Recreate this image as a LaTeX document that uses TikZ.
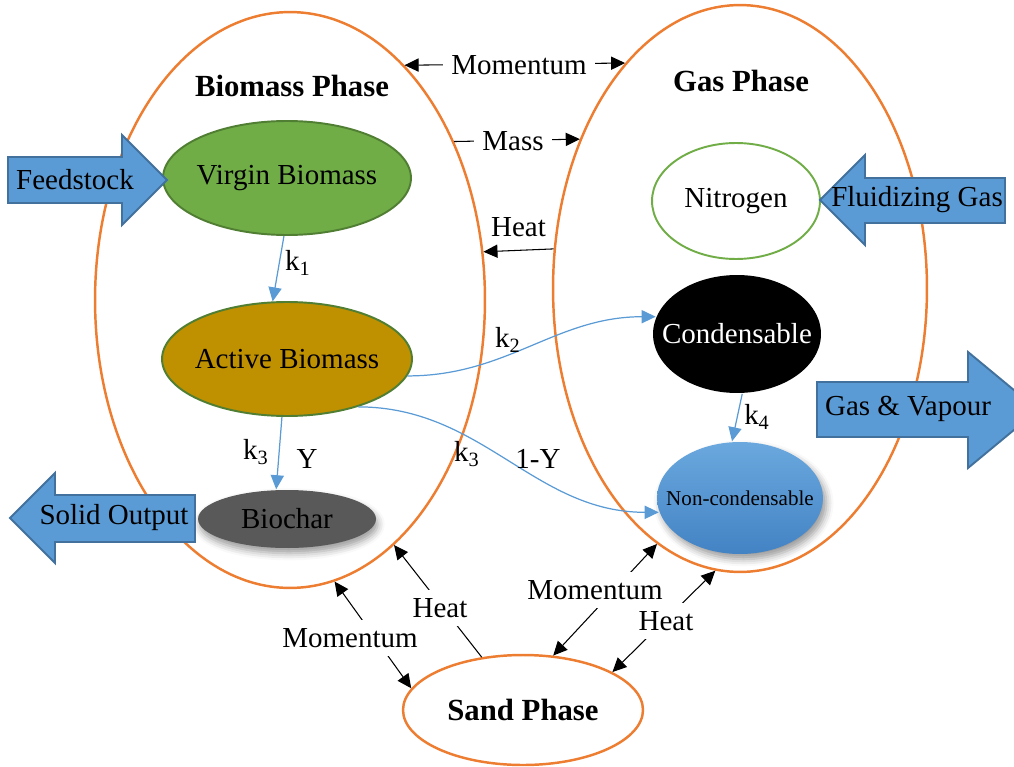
\documentclass[tikz,border=0pt]{standalone}
\usepackage{fontspec}
\setmainfont{Liberation Serif}
\usepackage{tikz}
\usetikzlibrary{shapes.geometric, arrows.meta, shadows.blur}

\definecolor{phaseorange}{HTML}{ED7D31}
\definecolor{leafgreen}{HTML}{70AD47}
\definecolor{darkgreen}{HTML}{507E32}
\definecolor{mustard}{HTML}{BF9000}
\definecolor{chargray}{HTML}{595959}
\definecolor{boxblue}{HTML}{5B9BD5}
\definecolor{boxedge}{HTML}{41719C}
\definecolor{lightblue}{HTML}{6AA8DE}
\definecolor{deepblue}{HTML}{4383C4}

\begin{document}
\begin{tikzpicture}[x=0.02cm, y=-0.02cm,
    font=\fontsize{16.5}{19}\selectfont,
    >={Triangle[length=8pt,width=7.5pt]},
    phase/.style={ellipse, draw=phaseorange, line width=1.4pt, inner sep=0pt},
    species/.style={ellipse, inner sep=0pt, line width=1.1pt},
    title/.style={font=\fontsize{17.5}{20}\selectfont\bfseries},
    flux/.style={draw=black, line width=0.6pt},
    react/.style={draw=boxblue, line width=0.7pt},
    tag/.style={fill=white, inner sep=5pt},
    block/.style={fill=boxblue, draw=boxedge, line width=1.1pt}]

    \useasboundingbox (0,0) rectangle (1014,767);
    \clip (0,0) rectangle (1014,767);

    % phases
    \node[phase, minimum width=7.8cm, minimum height=11.52cm] (biomass) at (290,300) {};
    \node[phase, minimum width=7.48cm, minimum height=11.34cm] (gas) at (740,288.5) {};
    \node[phase, title, minimum width=4.8cm, minimum height=2.2cm] (sand) at (523,710) {Sand Phase};
    \node[title] (biotitle) at (292,86) {Biomass Phase};
    \node[title] (gastitle) at (741,81) {Gas Phase};

    % species in the biomass phase
    \node[species, fill=leafgreen, draw=darkgreen, minimum width=4.96cm, minimum height=2.28cm,
          label=center:{Virgin Biomass}] (vb) at (287,178) {};
    \node[species, fill=mustard, draw=darkgreen, minimum width=5cm, minimum height=2.28cm,
          label=center:{Active Biomass}] (ab) at (287,359) {};
    \node[species, fill=chargray, minimum width=3.56cm, minimum height=1.16cm,
          blur shadow={shadow xshift=1pt, shadow yshift=-3pt, shadow blur radius=4pt},
          label=center:{Biochar}] (bc) at (287,519) {};

    % species in the gas phase
    \node[species, fill=white, draw=leafgreen, minimum width=3.36cm, minimum height=2.32cm,
          label=center:{Nitrogen}] (nitro) at (736,201) {};
    \node[species, fill=black, minimum width=3.36cm, minimum height=2.36cm,
          label={[text=white]center:Condensable}] (cond) at (737,334) {};
    \node[species, top color=lightblue, bottom color=deepblue, minimum width=3.32cm, minimum height=2.24cm,
          blur shadow={shadow xshift=2pt, shadow yshift=-3pt, shadow blur radius=4pt},
          label={[font=\fontsize{12}{14}\selectfont]center:Non-condensable}] (nc) at (740,498) {};

    % feed and product streams
    \filldraw[block] (8,157) -- (122,157) -- (122,135) -- (167,180) -- (122,225) -- (122,203) -- (8,203) -- cycle;
    \node (feed) at (75,180) {Feedstock};
    \filldraw[block] (1005,178) -- (865,178) -- (865,155) -- (820,200) -- (865,245) -- (865,223) -- (1005,223) -- cycle;
    \node (fluid) at (917,200) {Fluidizing Gas};
    \filldraw[block] (817,382) -- (968,382) -- (968,352) -- (1038,410) -- (968,468) -- (968,437) -- (817,437) -- cycle;
    \node (vapour) at (908,409) {Gas \& Vapour};
    \filldraw[block] (195,495) -- (55,495) -- (55,473) -- (10,518) -- (55,563) -- (55,542) -- (195,542) -- cycle;
    \node (solid) at (114,518) {Solid Output};

    % reactions
    \draw[react, ->] (vb.-93) -- (ab.104);
    \draw[react, ->] (ab.-8.6) to[out=0, in=180] (cond.168.3);
    \draw[react, ->] (ab.-34.4) to[out=0, in=180] (nc.-170);
    \draw[react, ->] (ab.-95) -- (bc.110);
    \draw[react, ->] (cond.-85) -- (nc.98);
    \node (k1) at (298,263) {k\textsubscript{1}};
    \node (k2) at (508,340) {k\textsubscript{2}};
    \node (k3a) at (256,452) {k\textsubscript{3}};
    \node (ya) at (307,459) {Y};
    \node (k3b) at (467,454) {k\textsubscript{3}};
    \node (yb) at (538,459) {1-Y};
    \node (k4) at (757,417) {k\textsubscript{4}};

    % exchange between phases
    \draw[flux, <->] (biomass.64.1) -- (gas.117.5);
    \draw[flux, ->] (biomass.44.1) -- (gas.137.5);
    \draw[flux, ->] (gas.168.9) -- node[above=4pt] (heattop) {Heat} (biomass.14);
    \draw[flux, <->] (biomass.-81.7) -- (sand.169.3);
    \draw[flux, <-] (biomass.-67.2) -- (sand.128.4);
    \draw[flux, <->] (gas.-108.6) -- (sand.61.5);
    \draw[flux, <->] (gas.-95.7) -- (sand.23.5);
    \node[tag] (momtop) at (519,65) {Momentum};
    \node[tag] (masstop) at (513,141) {Mass};
    \node[tag] (momleft) at (350,638) {Momentum};
    \node[tag] (heatleft) at (440,608) {Heat};
    \node[tag] (momright) at (595,590) {Momentum};
    \node[tag] (heatright) at (666,621) {Heat};
\end{tikzpicture}
\end{document}
